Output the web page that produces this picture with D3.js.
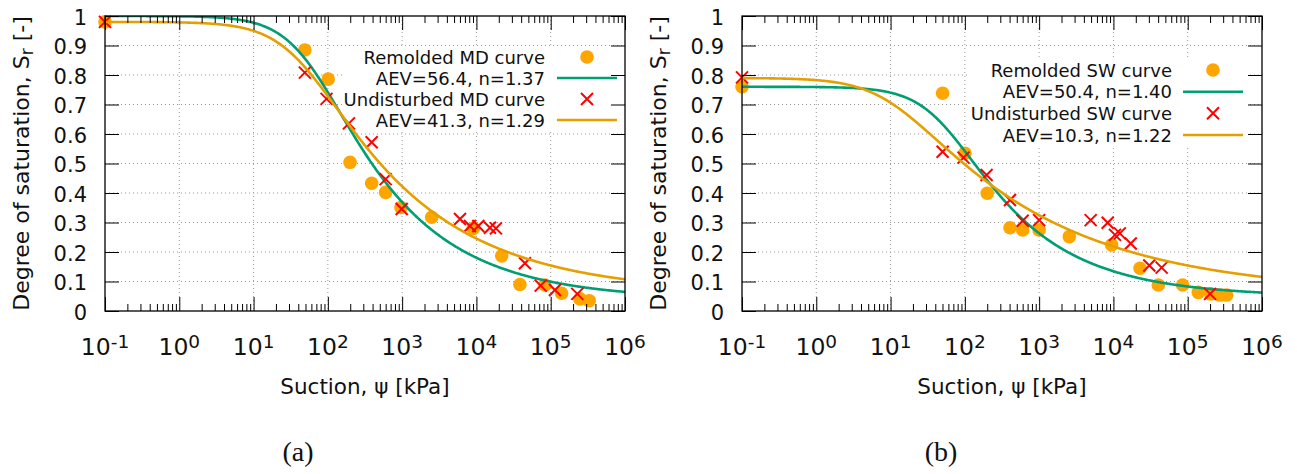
<!DOCTYPE html>
<html>
<head>
<meta charset="utf-8">
<script src="https://cdn.jsdelivr.net/npm/d3@7"></script>
<style>
  html, body { margin: 0; padding: 0; background: #fff; }
  svg { display: block; font-family: "DejaVu Sans", sans-serif; }
</style>
</head>
<body>
<svg id="chart" width="1297" height="474"></svg>
<script>
// ---- Measured water retention data (suction in kPa, degree of saturation Sr) ----
const mdRemoldedSuction    = [0.1, 49, 101, 199, 389, 600, 964, 2500, 9080, 21900, 38500, 83700, 140000, 248000, 330000];
const mdRemoldedSr         = [0.98, 0.885, 0.786, 0.504, 0.433, 0.402, 0.351, 0.318, 0.280, 0.187, 0.090, 0.088, 0.060, 0.041, 0.035];
const mdUndisturbedSuction = [0.1, 49, 96, 192, 389, 600, 986, 6010, 8180, 10600, 15200, 18300, 45000, 73300, 114000, 228000];
const mdUndisturbedSr      = [0.98, 0.808, 0.719, 0.636, 0.572, 0.447, 0.346, 0.312, 0.288, 0.288, 0.282, 0.280, 0.162, 0.086, 0.071, 0.058];

const swRemoldedSuction    = [0.1, 50.2, 100, 200, 405, 600, 1000, 2550, 9470, 22800, 40200, 85500, 139000, 204000, 272000, 334000];
const swRemoldedSr         = [0.76, 0.738, 0.535, 0.399, 0.282, 0.275, 0.275, 0.252, 0.224, 0.145, 0.088, 0.088, 0.063, 0.058, 0.054, 0.054];
const swUndisturbedSuction = [0.1, 50.2, 96, 196, 405, 600, 1000, 4940, 8370, 10500, 12200, 17100, 30400, 44600, 200000];
const swUndisturbedSr      = [0.792, 0.540, 0.520, 0.461, 0.376, 0.306, 0.308, 0.308, 0.299, 0.258, 0.263, 0.229, 0.154, 0.147, 0.058];

// ---- van Genuchten fit parameters: [remolded, undisturbed] ----
const mdFitAev  = [56.4, 41.3];
const mdFitN    = [1.37, 1.29];
const mdFitSsat = [1.0, 0.98];
const mdFitSres = [0.039, 0.058];

const swFitAev  = [50.4, 10.3];
const swFitN    = [1.40, 1.22];
const swFitSsat = [0.76, 0.79];
const swFitSres = [0.049, 0.057];

// ---- Series names and axis ticks ----
const mdSeriesNames = ["Remolded MD curve", "Undisturbed MD curve"];
const swSeriesNames = ["Remolded SW curve", "Undisturbed SW curve"];
const panelCaptions = ["(a)", "(b)"];
const xDecades = [-1, 0, 1, 2, 3, 4, 5, 6];
const yTicks   = [0, 0.1, 0.2, 0.3, 0.4, 0.5, 0.6, 0.7, 0.8, 0.9, 1];
const xTitle = "Suction, \u03c8 [kPa]";

// ---- Styles ----
const colPoint = "#ffa500";
const colCross = "#ff0000";
const colFitRemolded = "#009e73";
const colFitUndisturbed = "#e69f00";

const svg = d3.select("#chart");
const defs = svg.append("defs");

function vanGenuchten(psi, aev, n, sSat, sRes) {
  const m = 1 - 1 / n;
  return sRes + (sSat - sRes) * Math.pow(1 + Math.pow(psi / aev, n), -m);
}

function drawPanel(cfg) {
  const L = cfg.left, R = cfg.left + 520, T = 16, B = 311;
  const x = d3.scaleLog().domain([0.1, 1e6]).range([L, R]);
  const y = d3.scaleLinear().domain([0, 1]).range([B, T]);
  const g = svg.append("g");

  const clipId = "clip" + cfg.id;
  defs.append("clipPath").attr("id", clipId)
    .append("rect").attr("x", L).attr("y", T).attr("width", R - L).attr("height", B - T);

  // grid
  const gridStyle = s => s.attr("stroke", "#9a9a9a").attr("stroke-width", 1).attr("stroke-dasharray", "1,3");
  g.append("g").selectAll("line").data(xDecades.slice(1, -1)).join("line")
    .attr("x1", d => x(Math.pow(10, d))).attr("x2", d => x(Math.pow(10, d)))
    .attr("y1", T).attr("y2", B).call(gridStyle);
  g.append("g").selectAll("line").data(yTicks.slice(1, -1)).join("line")
    .attr("x1", L).attr("x2", R).attr("y1", d => y(d)).attr("y2", d => y(d)).call(gridStyle);

  // opaque key background
  const lg = cfg.legend;
  g.append("rect")
    .attr("x", lg.boxLeft).attr("y", lg.rows[0] - 11)
    .attr("width", lg.lineX2 + 6 - lg.boxLeft).attr("height", lg.rows[3] - lg.rows[0] + 22)
    .attr("fill", "#fff");

  const samplePsi = d3.range(0, 701).map(i => Math.pow(10, -1 + 7 * i / 700));
  const line = d3.line().x(d => x(d[0])).y(d => y(d[1]));
  const fitPath = (k) => samplePsi.map(p => [p, vanGenuchten(p, cfg.aev[k], cfg.n[k], cfg.sSat[k], cfg.sRes[k])]);

  const crossPath = (cx, cy, s) => `M${cx - s},${cy - s}L${cx + s},${cy + s}M${cx - s},${cy + s}L${cx + s},${cy - s}`;

  // remolded points
  g.append("g").selectAll("circle").data(d3.zip(cfg.remSuction, cfg.remSr)).join("circle")
    .attr("cx", d => x(d[0])).attr("cy", d => y(d[1])).attr("r", 6.8).attr("fill", colPoint);
  // remolded fit
  g.append("path").attr("d", line(fitPath(0))).attr("fill", "none")
    .attr("stroke", colFitRemolded).attr("stroke-width", 2.6).attr("clip-path", `url(#${clipId})`);
  // undisturbed points
  g.append("g").selectAll("path").data(d3.zip(cfg.undSuction, cfg.undSr)).join("path")
    .attr("d", d => crossPath(x(d[0]), y(d[1]), 6))
    .attr("stroke", colCross).attr("stroke-width", 2).attr("fill", "none");
  // undisturbed fit
  g.append("path").attr("d", line(fitPath(1))).attr("fill", "none")
    .attr("stroke", colFitUndisturbed).attr("stroke-width", 2.6).attr("clip-path", `url(#${clipId})`);

  // key
  const keyLabels = [
    cfg.names[0],
    `AEV=${cfg.aev[0].toFixed(1)}, n=${cfg.n[0].toFixed(2)}`,
    cfg.names[1],
    `AEV=${cfg.aev[1].toFixed(1)}, n=${cfg.n[1].toFixed(2)}`
  ];
  g.append("g").selectAll("text").data(keyLabels).join("text")
    .attr("x", lg.textRight).attr("y", (d, i) => lg.rows[i] + 6.5)
    .attr("text-anchor", "end").attr("font-size", 18).attr("fill", "#111")
    .text(d => d);
  const mx = (lg.lineX1 + lg.lineX2) / 2;
  g.append("circle").attr("cx", mx).attr("cy", lg.rows[0]).attr("r", 6.8).attr("fill", colPoint);
  g.append("line").attr("x1", lg.lineX1).attr("x2", lg.lineX2).attr("y1", lg.rows[1]).attr("y2", lg.rows[1])
    .attr("stroke", colFitRemolded).attr("stroke-width", 2.6);
  g.append("path").attr("d", crossPath(mx, lg.rows[2], 6)).attr("stroke", colCross).attr("stroke-width", 2);
  g.append("line").attr("x1", lg.lineX1).attr("x2", lg.lineX2).attr("y1", lg.rows[3]).attr("y2", lg.rows[3])
    .attr("stroke", colFitUndisturbed).attr("stroke-width", 2.6);

  // axes (ticks pointing inward, mirrored)
  const allTicks = x.ticks();
  const majors = xDecades.map(d => Math.pow(10, d));
  const minors = allTicks.filter(t => !majors.some(m => Math.abs(Math.log10(t) - Math.log10(m)) < 1e-6));
  const strip = s => { s.select(".domain").remove(); s.attr("color", "#000"); };

  g.append("g").attr("transform", `translate(0,${B})`)
    .call(d3.axisBottom(x).tickValues(majors).tickSize(-14).tickFormat("")).call(strip);
  g.append("g").attr("transform", `translate(0,${B})`)
    .call(d3.axisBottom(x).tickValues(minors).tickSize(-7).tickFormat("")).call(strip);
  g.append("g").attr("transform", `translate(0,${T})`)
    .call(d3.axisTop(x).tickValues(majors).tickSize(-14).tickFormat("")).call(strip);
  g.append("g").attr("transform", `translate(0,${T})`)
    .call(d3.axisTop(x).tickValues(minors).tickSize(-7).tickFormat("")).call(strip);

  const yAxis = g.append("g").attr("transform", `translate(${L},0)`)
    .call(d3.axisLeft(y).tickValues(yTicks).tickSize(-14).tickPadding(18)
      .tickFormat(d => (d === 0 || d === 1) ? String(d) : d.toFixed(1)))
    .call(strip);
  yAxis.selectAll("text").attr("font-size", 21).attr("font-family", "DejaVu Sans")
    .attr("dy", 8.3).attr("fill", "#111");
  g.append("g").attr("transform", `translate(${R},0)`)
    .call(d3.axisRight(y).tickValues(yTicks).tickSize(-14).tickFormat("")).call(strip);

  g.append("rect").attr("x", L).attr("y", T).attr("width", R - L).attr("height", B - T)
    .attr("fill", "none").attr("stroke", "#000").attr("stroke-width", 1.3);

  // x tick labels 10^k
  const xl = g.append("g").selectAll("text").data(xDecades).join("text")
    .attr("x", d => x(Math.pow(10, d))).attr("y", 355)
    .attr("text-anchor", "middle").attr("font-size", 23.5).attr("fill", "#111");
  xl.append("tspan").text("10");
  xl.append("tspan").attr("font-size", 18.5).attr("dy", -7).text(d => String(d));

  // axis titles
  g.append("text").attr("x", (L + R) / 2).attr("y", 394).attr("text-anchor", "middle")
    .attr("font-size", 21.5).attr("fill", "#111").text(xTitle);
  const yt = g.append("text").attr("transform", `translate(${L - 76},${(T + B) / 2}) rotate(-90)`)
    .attr("text-anchor", "middle").attr("font-size", 22).attr("fill", "#111");
  yt.append("tspan").text("Degree of saturation, S");
  yt.append("tspan").attr("font-size", 17).attr("dy", 4).text("r");
  yt.append("tspan").attr("dy", -4).text(" [-]");

  // caption
  g.append("text").attr("x", cfg.captionX).attr("y", 461).attr("text-anchor", "middle")
    .attr("font-family", "Liberation Serif, serif").attr("font-size", 28).attr("fill", "#111")
    .text(cfg.caption);
}

drawPanel({
  id: "a", left: 105, caption: panelCaptions[0], captionX: 298, names: mdSeriesNames,
  remSuction: mdRemoldedSuction, remSr: mdRemoldedSr,
  undSuction: mdUndisturbedSuction, undSr: mdUndisturbedSr,
  aev: mdFitAev, n: mdFitN, sSat: mdFitSsat, sRes: mdFitSres,
  legend: { textRight: 545, lineX1: 557, lineX2: 617, boxLeft: 342, rows: [57, 78, 99, 120] }
});
drawPanel({
  id: "b", left: 742, caption: panelCaptions[1], captionX: 941, names: swSeriesNames,
  remSuction: swRemoldedSuction, remSr: swRemoldedSr,
  undSuction: swUndisturbedSuction, undSr: swUndisturbedSr,
  aev: swFitAev, n: swFitN, sSat: swFitSsat, sRes: swFitSres,
  legend: { textRight: 1172, lineX1: 1183, lineX2: 1243, boxLeft: 968, rows: [70, 91.7, 113.3, 135] }
});
</script>
</body>
</html>
